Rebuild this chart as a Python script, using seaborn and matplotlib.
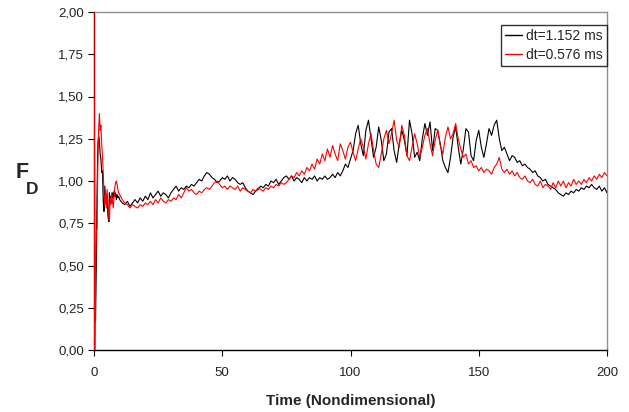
import numpy as np
import pandas as pd
import matplotlib
matplotlib.use("Agg")
import matplotlib.pyplot as plt
from matplotlib.ticker import FuncFormatter
import seaborn as sns

# ---------------- data ----------------
t_early = [0, 0.3, 0.6, 0.9, 1.2, 1.5, 1.8, 2.1, 2.4, 2.7, 3.0, 3.3, 3.6, 3.9,
           4.2, 4.5, 4.8, 5.1, 5.4, 5.7, 6.0, 6.3, 6.6, 6.9, 7.2, 7.5, 7.8,
           8.1, 8.4, 8.7, 9.0, 9.3, 9.6]
t_late = list(range(10, 201))
time = t_early + t_late

black_early = [2.10, 0.60, 0.17, 0.50, 0.95, 1.22, 1.27, 1.24, 1.16, 1.13, 1.05,
               1.06, 0.88, 0.82, 0.97, 0.90, 0.86, 0.92, 0.80, 0.76, 0.93, 0.88,
               0.91, 0.87, 0.93, 0.90, 0.94, 0.91, 0.93, 0.89, 0.92, 0.90, 0.91]
black_late = [
    0.89, 0.87, 0.86, 0.88, 0.85, 0.87, 0.89, 0.87, 0.90, 0.88,
    0.91, 0.89, 0.93, 0.90, 0.92, 0.94, 0.91, 0.93, 0.92, 0.90,
    0.93, 0.95, 0.97, 0.94, 0.96, 0.95, 0.97, 0.96, 0.98, 0.97,
    0.99, 1.01, 1.00, 1.03, 1.05, 1.04, 1.02, 1.01, 0.99, 1.00,
    1.02, 1.01, 1.03, 1.00, 1.02, 1.01, 0.99, 0.98, 0.99, 0.96,
    0.94, 0.93, 0.92, 0.94, 0.95, 0.97, 0.96, 0.98, 0.97, 1.00,
    0.99, 1.01, 0.98, 1.00, 1.02, 1.03, 1.01, 1.03, 1.00, 1.02,
    1.01, 0.99, 1.02, 1.00, 1.02, 1.01, 1.03, 1.00, 1.02, 1.01,
    1.03, 1.01, 1.02, 1.04, 1.02, 1.05, 1.03, 1.06, 1.10, 1.08,
    1.13, 1.18, 1.28, 1.33, 1.22, 1.15, 1.30, 1.36, 1.25, 1.14,
    1.20, 1.32, 1.24, 1.12, 1.16, 1.29, 1.31, 1.18, 1.11, 1.22,
    1.30, 1.24, 1.15, 1.36, 1.28, 1.14, 1.17, 1.12, 1.25, 1.34,
    1.27, 1.35, 1.18, 1.31, 1.30, 1.22, 1.12, 1.08, 1.05, 1.14,
    1.26, 1.32, 1.20, 1.10, 1.19, 1.31, 1.29, 1.15, 1.12, 1.24,
    1.30, 1.20, 1.14, 1.22, 1.31, 1.27, 1.33, 1.36, 1.25, 1.18,
    1.20, 1.16, 1.12, 1.15, 1.14, 1.11, 1.12, 1.09, 1.10, 1.08,
    1.07, 1.05, 1.06, 1.03, 1.02, 1.00, 1.01, 0.98, 0.97, 0.96,
    0.95, 0.93, 0.92, 0.91, 0.93, 0.92, 0.94, 0.93, 0.95, 0.94,
    0.96, 0.95, 0.97, 0.96, 0.98, 0.96, 0.95, 0.97, 0.94, 0.96, 0.93]

red_early = [2.30, 0.00, 0.45, 0.70, 0.72, 1.10, 1.30, 1.40, 1.30, 1.33, 1.22,
             1.15, 1.05, 0.92, 0.86, 0.93, 0.84, 0.95, 0.88, 0.80, 0.76, 0.90,
             0.86, 0.93, 0.88, 0.84, 0.90, 0.96, 0.99, 1.00, 0.98, 0.95, 0.93]
red_late = [
    0.92, 0.89, 0.87, 0.86, 0.84, 0.86, 0.85, 0.84, 0.86, 0.85,
    0.87, 0.86, 0.88, 0.86, 0.89, 0.87, 0.90, 0.88, 0.87, 0.89,
    0.88, 0.90, 0.89, 0.92, 0.90, 0.93, 0.96, 0.94, 0.95, 0.93,
    0.92, 0.94, 0.93, 0.95, 0.96, 0.95, 0.97, 0.99, 1.00, 0.98,
    0.96, 0.97, 0.95, 0.97, 0.96, 0.95, 0.97, 0.94, 0.96, 0.95,
    0.94, 0.93, 0.95, 0.94, 0.96, 0.95, 0.94, 0.96, 0.95, 0.97,
    0.96, 0.98, 0.97, 0.99, 0.98, 0.99, 1.01, 1.03, 1.02, 1.05,
    1.03, 1.06, 1.04, 1.08, 1.06, 1.10, 1.07, 1.13, 1.10, 1.16,
    1.12, 1.19, 1.14, 1.21, 1.16, 1.12, 1.22, 1.18, 1.13, 1.20,
    1.23, 1.17, 1.12, 1.19, 1.25, 1.20, 1.13, 1.22, 1.28, 1.18,
    1.10, 1.08, 1.16, 1.25, 1.30, 1.22, 1.28, 1.36, 1.24, 1.20,
    1.33, 1.27, 1.15, 1.12, 1.20, 1.28, 1.22, 1.14, 1.20, 1.27,
    1.31, 1.22, 1.15, 1.24, 1.30, 1.21, 1.16, 1.26, 1.32, 1.25,
    1.28, 1.34, 1.25, 1.19, 1.14, 1.16, 1.10, 1.12, 1.08, 1.09,
    1.06, 1.08, 1.05, 1.07, 1.06, 1.04, 1.08, 1.10, 1.14, 1.07,
    1.05, 1.07, 1.04, 1.06, 1.03, 1.05, 1.02, 1.01, 1.03, 1.00,
    0.99, 1.01, 0.98, 0.97, 1.00, 0.96, 0.98, 0.97, 0.95, 0.99,
    0.96, 1.00, 0.97, 1.00, 0.96, 0.99, 0.97, 1.01, 0.98, 1.00,
    0.98, 1.01, 0.99, 1.02, 1.00, 1.03, 1.01, 1.04, 1.02, 1.05, 1.03]

series_names = ["dt=1.152 ms", "dt=0.576 ms"]
series_colors = ["#000000", "#ff0000"]
x_ticks = [0, 50, 100, 150, 200]
y_ticks = [0, 0.25, 0.5, 0.75, 1.0, 1.25, 1.5, 1.75, 2.0]

black = black_early + black_late
red = red_early + red_late

df = pd.concat([
    pd.DataFrame({"time": time, "FD": black, "series": series_names[0]}),
    pd.DataFrame({"time": time, "FD": red, "series": series_names[1]}),
], ignore_index=True)

# ---------------- figure ----------------
sns.set_theme(style="white")
plt.rcParams["font.family"] = ["Liberation Sans", "DejaVu Sans"]

fig = plt.figure(figsize=(6.29, 4.12), dpi=100)
ax = fig.add_axes([94 / 629, 1 - 350 / 412, (607 - 94) / 629, (350 - 12) / 412])

sns.lineplot(data=df, x="time", y="FD", hue="series", hue_order=series_names,
             palette=dict(zip(series_names, series_colors)), estimator=None,
             sort=False, linewidth=0.8, ax=ax)
for ln in ax.get_lines():
    ln.set_zorder(3)

ax.set_xlim(0, 200)
ax.set_ylim(0, 2.0)
ax.set_xticks(x_ticks)
ax.set_yticks(y_ticks)
ax.yaxis.set_major_formatter(FuncFormatter(lambda v, p: f"{v:.2f}".replace(".", ",")))
ax.xaxis.set_major_formatter(FuncFormatter(lambda v, p: f"{v:.0f}"))
ax.tick_params(axis="both", which="major", direction="out", length=4, width=0.8,
               color="black", labelsize=9.5, labelcolor="#222222", pad=3,
               left=True, bottom=True)
ax.tick_params(axis="x", pad=8)

for side in ["left", "bottom"]:
    ax.spines[side].set_color("black")
    ax.spines[side].set_linewidth(1.0)
for side in ["top", "right"]:
    ax.spines[side].set_color("#909090")
    ax.spines[side].set_linewidth(1.0)

ax.set_xlabel("Time (Nondimensional)", fontsize=11, fontweight="bold",
              labelpad=11)
ax.set_ylabel("")
fig.text(22 / 629, 1 - 172 / 412, "F", fontsize=15.5, fontweight="bold",
         ha="center", va="center")
fig.text(32 / 629, 1 - 190 / 412, "D", fontsize=12.5, fontweight="bold",
         ha="center", va="center")

handles, labels = ax.get_legend_handles_labels()
leg = ax.legend(handles, labels, loc="upper right",
                bbox_to_anchor=(1.0, 1 - 13 / 338),
                fontsize=10, frameon=True, fancybox=False, handlelength=1.2,
                handletextpad=0.3, borderpad=0.3, labelspacing=0.35,
                borderaxespad=0.0)
leg.get_frame().set_edgecolor("black")
leg.get_frame().set_linewidth(1.0)
for line in leg.get_lines():
    line.set_linewidth(1.0)

fig.savefig("out.png", dpi=100, facecolor="white")
